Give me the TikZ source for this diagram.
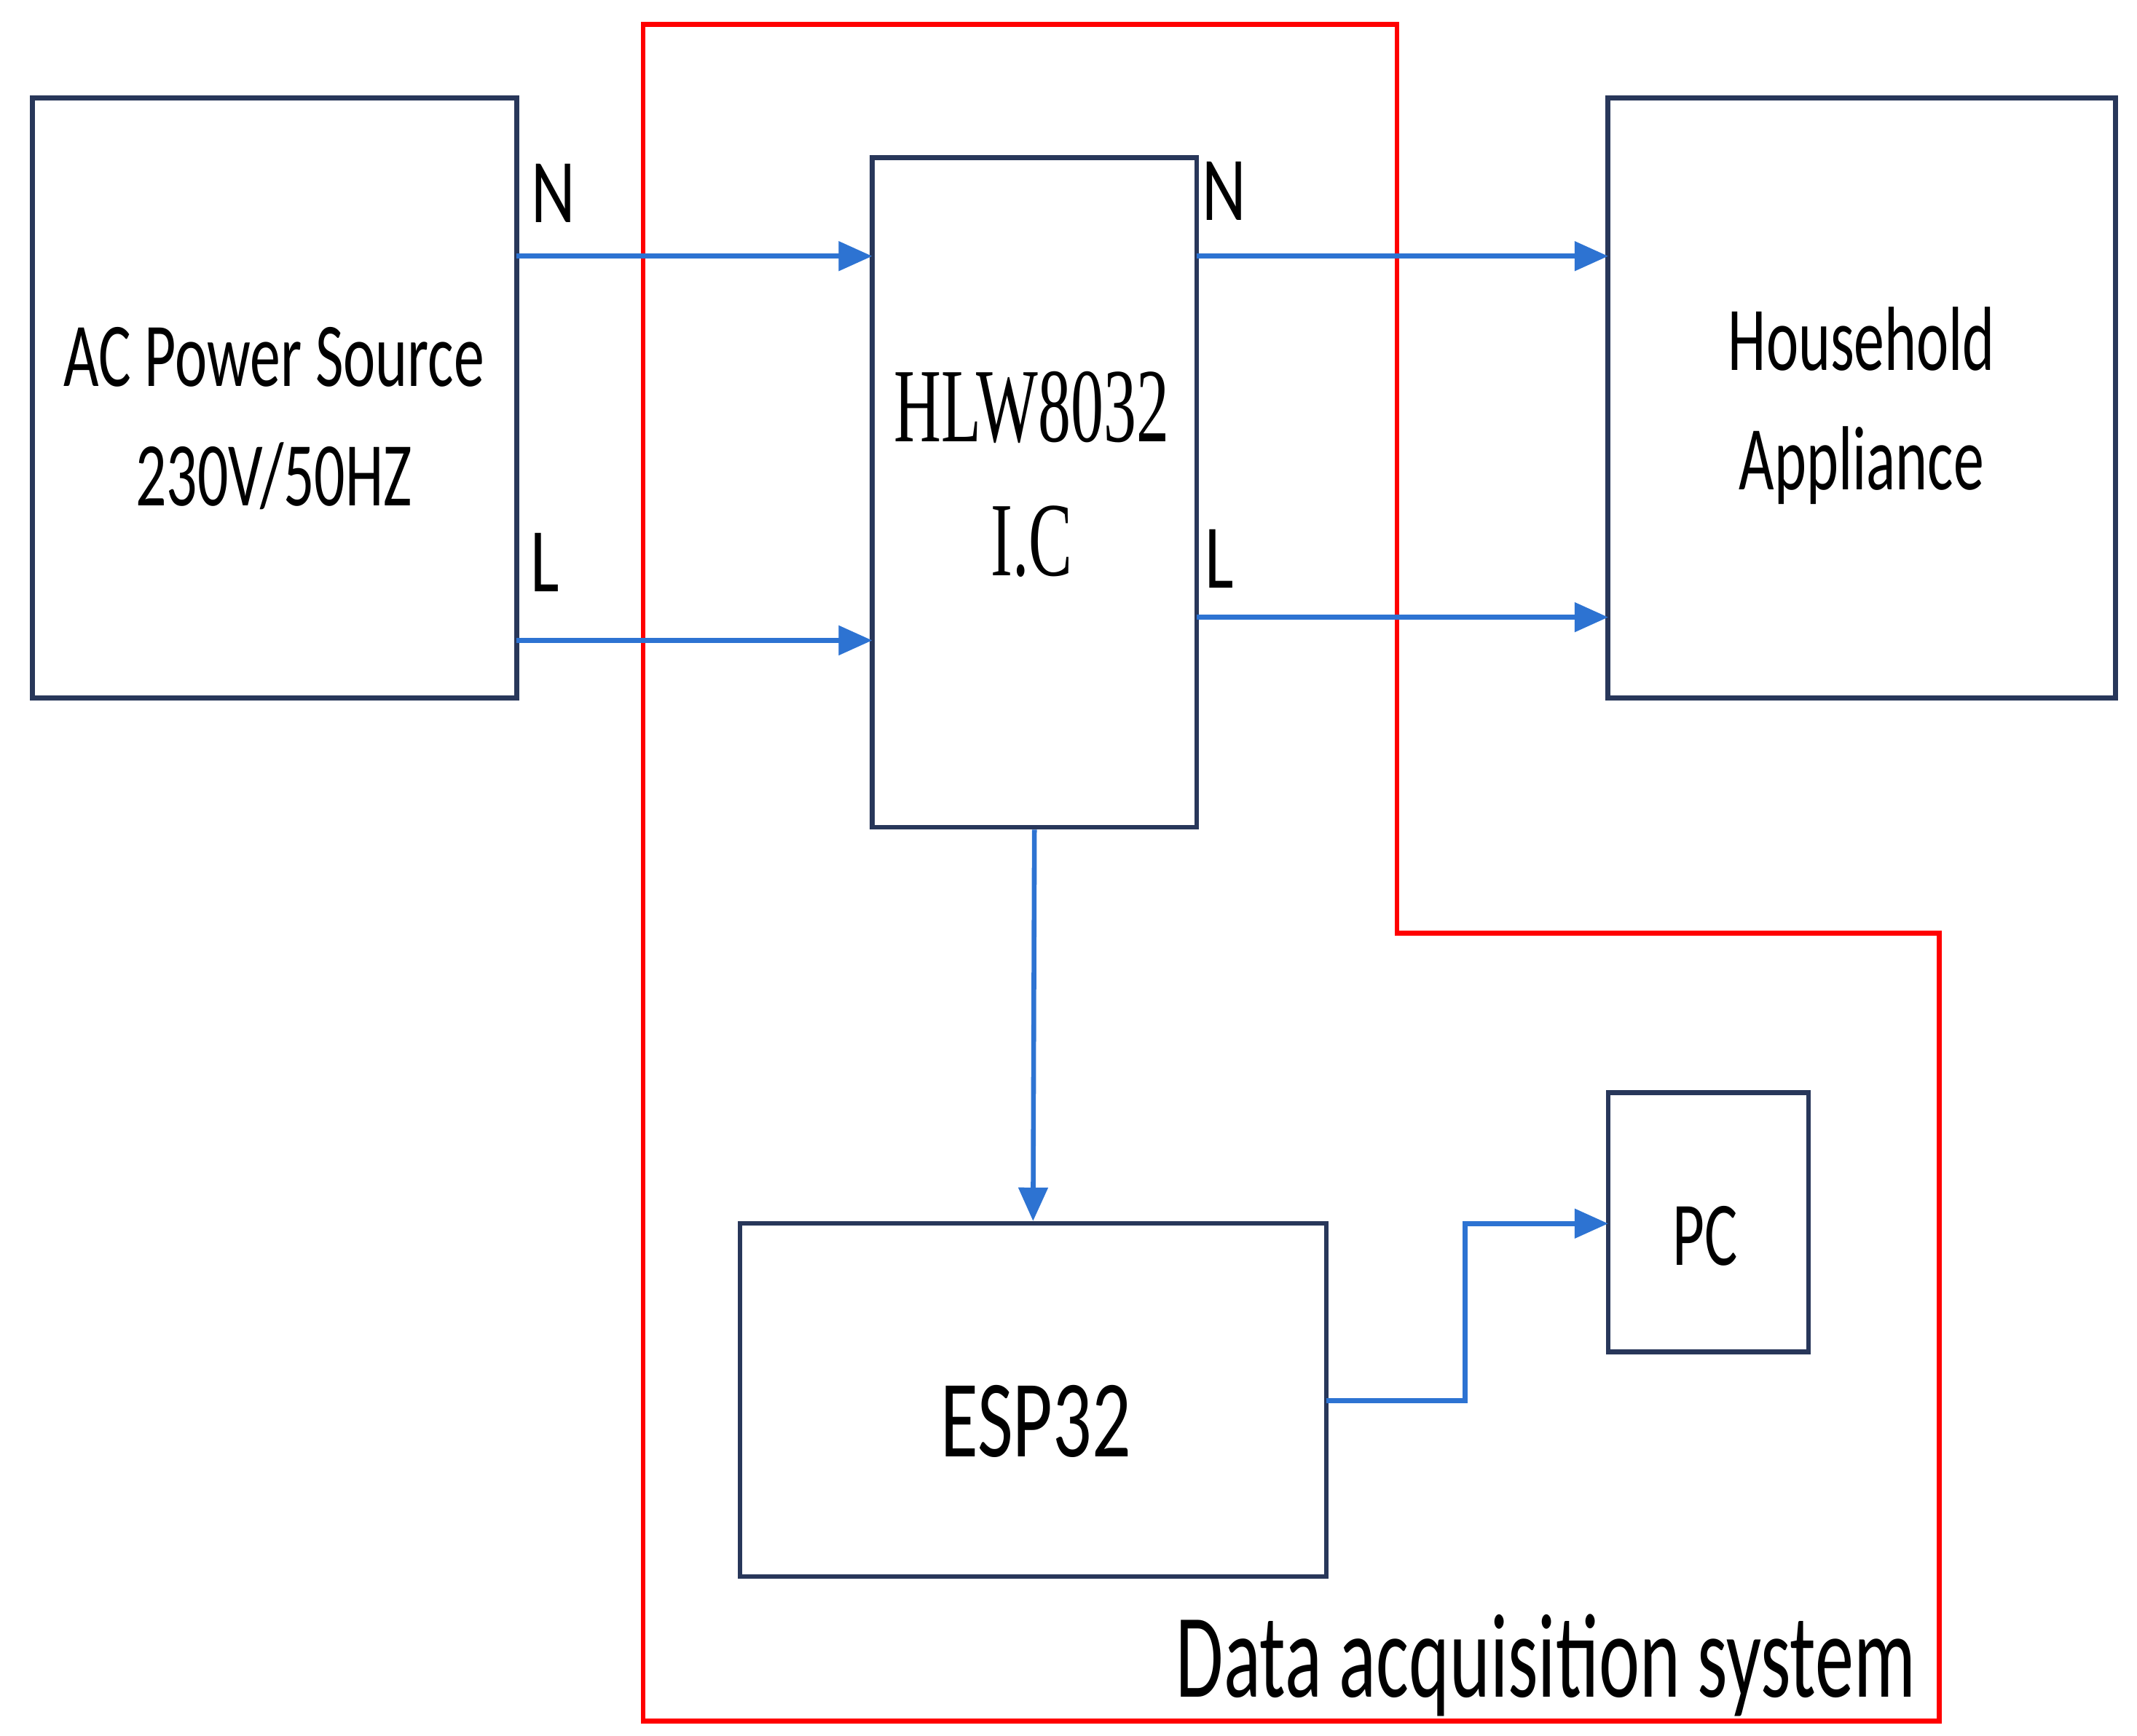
\documentclass[tikz,border=0pt]{standalone}
\usepackage{fontspec}
\usepackage{graphicx}
\setmainfont{Carlito}
\newfontfamily\serifx{Liberation Serif}
\newcommand{\sqz}[2]{\scalebox{#1}[1]{#2}}
\usetikzlibrary{arrows.meta}
\definecolor{boxc}{RGB}{40,55,90}
\definecolor{arrc}{RGB}{45,115,210}
\begin{document}
\begin{tikzpicture}[x=0.01cm,y=-0.01cm,
  box/.style={draw=boxc,line width=1pt,inner sep=0pt},
  conn/.style={draw=arrc,line width=1pt,-{Triangle[length=7pt,width=6pt]}},
  lbl/.style={font=\fontsize{19}{22}\selectfont}]
\useasboundingbox (0,0) rectangle (1568,1274);
\fill[white] (0,0) rectangle (1568,1274);
\draw[red,line width=1pt] (472,18) -- (1025,18) -- (1025,685) -- (1423,685) -- (1423,1263) -- (472,1263) -- cycle;
\node[box,minimum width=3.55cm,minimum height=4.4cm] (ac) at (201.5,292) {};
\node[lbl] at (201,312) {\sqz{0.67}{\begin{tabular}{c}AC Power Source\\[3pt]230V/50HZ\end{tabular}}};
\node[box,minimum width=2.38cm,minimum height=4.91cm] (hlw) at (759,361.5) {};
\node[font=\serifx\fontsize{22}{26}\selectfont] at (757,355) {\sqz{0.62}{\begin{tabular}{c}HLW8032\\[2pt]I.C\end{tabular}}};
\node[box,minimum width=3.72cm,minimum height=4.4cm] (ha) at (1366,292) {};
\node[lbl] at (1366,300) {\sqz{0.67}{\begin{tabular}{c}Household\\[3pt]Appliance\end{tabular}}};
\node[box,minimum width=4.3cm,minimum height=2.59cm] (esp) at (758,1027.5) {};
\node[font=\fontsize{23}{26}\selectfont] at (760,1043) {\sqz{0.7}{ESP32}};
\node[box,minimum width=1.47cm,minimum height=1.9cm] (pc) at (1253.5,897) {};
\node[lbl] at (1251,907) {\sqz{0.68}{PC}};
\coordinate (a1) at (379,188); \coordinate (b1) at (640,188);
\coordinate (a2) at (379,470); \coordinate (b2) at (640,470);
\coordinate (c1) at (878,188); \coordinate (d1) at (1180,188);
\coordinate (c2) at (878,453); \coordinate (d2) at (1180,453);
\coordinate (e) at (973,1028); \coordinate (f) at (1180,898);
\draw[conn] (a1) -- (b1);
\draw[conn] (a2) -- (b2);
\draw[conn] (c1) -- (d1);
\draw[conn] (c2) -- (d2);
\draw[conn] (hlw.south) -- (esp.north);
\draw[conn] (e) -- (1075,1028) -- (1075,898) -- (f);
\node[lbl] at (406,142) {\sqz{0.75}{N}};
\node[lbl] at (400,413) {\sqz{0.75}{L}};
\node[lbl] at (898,140) {\sqz{0.75}{N}};
\node[lbl] at (895,410) {\sqz{0.75}{L}};
\node[font=\fontsize{25}{28}\selectfont,anchor=east] at (1418,1222) {\sqz{0.645}{Data acquisition system}};
\end{tikzpicture}
\end{document}
